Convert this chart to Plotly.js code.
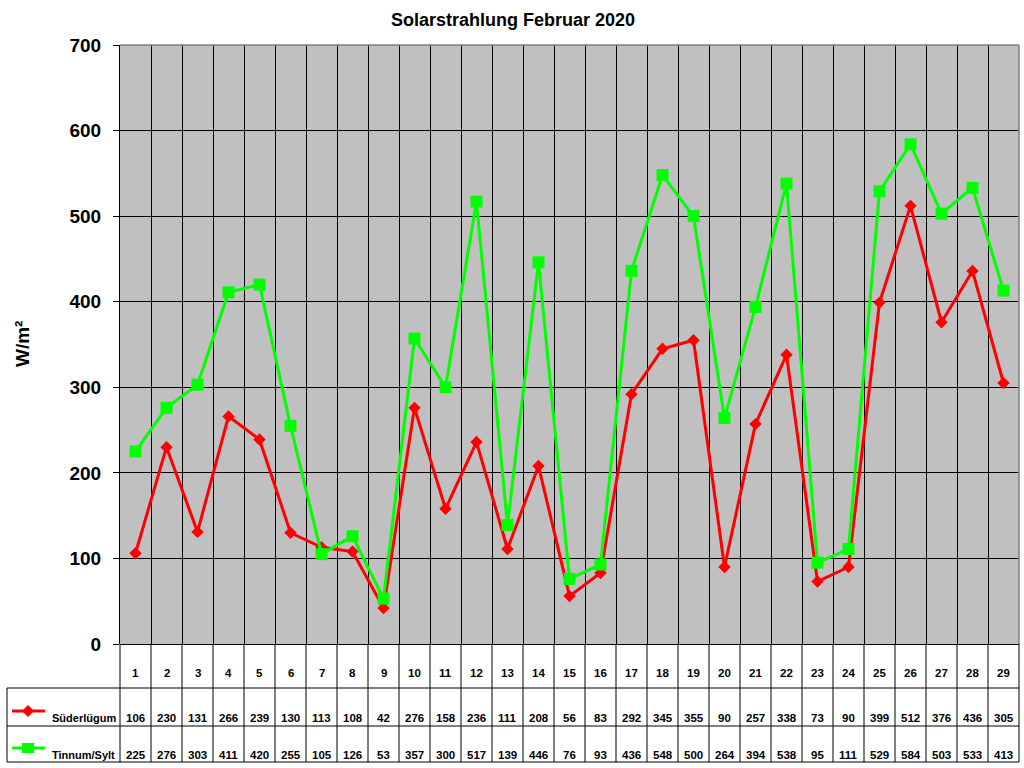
<!DOCTYPE html>
<html>
<head>
<meta charset="utf-8">
<script src="https://cdn.plot.ly/plotly-3.0.1.min.js"></script>
<style>html,body{margin:0;padding:0;background:#fff;}#chart{width:1024px;height:768px;}</style>
</head>
<body>
<div id="chart"></div>
<script>
const days = [1,2,3,4,5,6,7,8,9,10,11,12,13,14,15,16,17,18,19,20,21,22,23,24,25,26,27,28,29];
const suederluegum = [106,230,131,266,239,130,113,108,42,276,158,236,111,208,56,83,292,345,355,90,257,338,73,90,399,512,376,436,305];
const tinnumSylt = [225,276,303,411,420,255,105,126,53,357,300,517,139,446,76,93,436,548,500,264,394,538,95,111,529,584,503,533,413];
const seriesNames = ['Süderlügum', 'Tinnum/Sylt'];
const yTicks = [0,100,200,300,400,500,600,700];

const FONT = 'Liberation Sans, Arial, sans-serif';
const W = 1024, H = 768;
const mL = 120, mR = 5, mT = 45, mB = 124;
const plotW = W - mL - mR, plotH = H - mT - mB;
const py = p => (H - mB - p) / plotH;      // pixel y -> paper y
const px = p => (p - mL) / plotW;          // pixel x -> paper x

const rowTop1 = 688, rowTop2 = 726, tableBottom = 762, tableLeft = 7;
const headerY = 673, row1Y = 718, row2Y = 755;

const traces = [
  {x: days, y: suederluegum, name: seriesNames[0], type: 'scatter', mode: 'lines+markers',
   line: {color: '#FF0000', width: 3}, marker: {symbol: 'diamond', size: 9.5, color: '#FF0000'}},
  {x: days, y: tinnumSylt, name: seriesNames[1], type: 'scatter', mode: 'lines+markers',
   line: {color: '#00FF00', width: 3}, marker: {symbol: 'square', size: 12, color: '#00FF00'}}
];

const boundaries = [];
for (let i = 0; i <= days.length; i++) boundaries.push(days[0] - 0.5 + i);

const shapes = [];
// table vertical lines at category boundaries
boundaries.forEach((b, i) => {
  shapes.push({type: 'line', xref: 'paper', yref: 'paper',
    x0: i / days.length, x1: i / days.length, y0: 0, y1: py(tableBottom),
    line: {color: '#000', width: 1}});
});
// table horizontal lines
[rowTop1, rowTop2, tableBottom].forEach(yy => {
  shapes.push({type: 'line', xref: 'paper', yref: 'paper', x0: px(tableLeft), x1: 1, y0: py(yy), y1: py(yy),
    line: {color: '#000', width: 1}});
});
// table left edge
shapes.push({type: 'line', xref: 'paper', yref: 'paper', x0: px(tableLeft), x1: px(tableLeft), y0: py(rowTop1), y1: py(tableBottom),
  line: {color: '#000', width: 1}});
// plot top/right border
shapes.push({type: 'line', xref: 'paper', yref: 'paper', x0: 0, x1: 1, y0: 1, y1: 1, line: {color: '#808080', width: 1.5}});
shapes.push({type: 'line', xref: 'paper', yref: 'paper', x0: 1, x1: 1, y0: 0, y1: 1, line: {color: '#808080', width: 1.5}});
// legend keys in the table
const keyY = [711, 748];
const keyColors = ['#FF0000', '#00FF00'];
const keyPaths = ['M 0 6 L 6 0 L 0 -6 L -6 0 Z', 'M -6 -5 L 6 -5 L 6 5 L -6 5 Z'];
for (let k = 0; k < 2; k++) {
  shapes.push({type: 'line', xref: 'paper', yref: 'paper', x0: px(12), x1: px(45), y0: py(keyY[k]), y1: py(keyY[k]),
    line: {color: keyColors[k], width: 3}});
  shapes.push({type: 'path', xref: 'paper', yref: 'paper', xsizemode: 'pixel', ysizemode: 'pixel',
    xanchor: px(28), yanchor: py(keyY[k]), path: keyPaths[k],
    fillcolor: keyColors[k], line: {color: keyColors[k], width: 0}});
}

const tFont = {family: FONT, size: 11.5, color: '#000', weight: 'bold'};
const annotations = [];
days.forEach((d, i) => {
  annotations.push({x: d, xref: 'x', y: py(headerY), yref: 'paper', text: String(d), showarrow: false,
    font: tFont, xanchor: 'center', yanchor: 'middle'});
  annotations.push({x: d, xref: 'x', y: py(row1Y), yref: 'paper', text: String(suederluegum[i]), showarrow: false,
    font: tFont, xanchor: 'center', yanchor: 'middle'});
  annotations.push({x: d, xref: 'x', y: py(row2Y), yref: 'paper', text: String(tinnumSylt[i]), showarrow: false,
    font: tFont, xanchor: 'center', yanchor: 'middle'});
});
annotations.push({x: px(50), xref: 'paper', y: py(row1Y), yref: 'paper', text: seriesNames[0], showarrow: false,
  font: {family: FONT, size: 11, color: '#000', weight: 'bold'}, xanchor: 'left', yanchor: 'middle'});
annotations.push({x: px(50), xref: 'paper', y: py(row2Y), yref: 'paper', text: seriesNames[1], showarrow: false,
  font: {family: FONT, size: 11, color: '#000', weight: 'bold'}, xanchor: 'left', yanchor: 'middle'});
// y-axis title
annotations.push({x: px(22), xref: 'paper', y: py(344), yref: 'paper', text: 'W/m²', textangle: -90, showarrow: false,
  font: {family: FONT, size: 19, color: '#000', weight: 'bold'}, xanchor: 'center', yanchor: 'middle'});

const layout = {
  width: W, height: H,
  margin: {l: mL, r: mR, t: mT, b: mB, pad: 0},
  paper_bgcolor: '#FFFFFF', plot_bgcolor: '#C0C0C0',
  showlegend: false,
  font: {family: FONT, color: '#000'},
  title: {text: 'Solarstrahlung Februar 2020', x: 513 / W, xref: 'container', xanchor: 'center',
    y: 1 - 20 / H, yref: 'container', yanchor: 'middle',
    font: {family: FONT, size: 18, color: '#000', weight: 'bold'}},
  xaxis: {range: [boundaries[0], boundaries[boundaries.length - 1]], tickmode: 'array',
    tickvals: boundaries.slice(1, -1), showticklabels: false, ticks: '',
    showgrid: true, gridcolor: '#000', gridwidth: 1, zeroline: false, showline: false, fixedrange: true},
  yaxis: {range: [0, 700], tickmode: 'array', tickvals: yTicks, ticktext: yTicks.map(String),
    ticks: 'outside', ticklen: 6, tickcolor: '#000', tickwidth: 1, ticklabelstandoff: 8,
    tickfont: {family: FONT, size: 19, color: '#000', weight: 'bold'},
    showgrid: true, gridcolor: '#000', gridwidth: 1, zeroline: true, zerolinecolor: '#000', zerolinewidth: 1,
    showline: true, linecolor: '#000', linewidth: 1, fixedrange: true},
  shapes: shapes,
  annotations: annotations
};

Plotly.newPlot('chart', traces, layout, {displayModeBar: false, staticPlot: true});
</script>
</body>
</html>
